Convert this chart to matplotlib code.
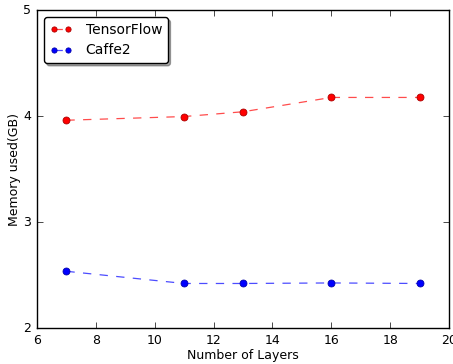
import matplotlib
matplotlib.use("Agg")
from matplotlib import pyplot as plt

layers_tf = [7, 11, 13, 16, 19]
mem_tf = [3.96, 3.995, 4.04, 4.175, 4.175]
layers_caffe2 = [7, 11, 13, 16, 19]
mem_caffe2 = [2.535, 2.42, 2.42, 2.425, 2.42]

plt.style.use('classic')
fig = plt.figure(figsize=(4.53, 3.64), dpi=100)
ax = fig.add_axes([37/453, 1 - 328/364, 412/453, 318/364])

# dashed lines a bit see-through, markers solid
ax.plot(layers_tf, mem_tf, '--', color=(1, 0, 0, 0.7), linewidth=0.9,
        marker='o', markersize=5, markerfacecolor='r', markeredgecolor='#aa0000',
        markeredgewidth=0.6, label='TensorFlow')
ax.plot(layers_caffe2, mem_caffe2, '--', color=(0, 0, 1, 0.7), linewidth=0.9,
        marker='o', markersize=5, markerfacecolor='b', markeredgecolor='#0000aa',
        markeredgewidth=0.6, label='Caffe2')

ax.set_xlim(6, 20)
ax.set_ylim(2, 5)
ax.set_xticks(range(6, 21, 2))
ax.set_yticks([2, 3, 4, 5])
ax.tick_params(labelsize=9)
ax.set_xlabel('Number of Layers', fontsize=9, labelpad=2)
ax.set_ylabel('Memory used(GB)', fontsize=9, labelpad=2)

ax.legend(loc='upper left', fontsize=10, fancybox=True, shadow=True,
          numpoints=2, handlelength=1.6, handletextpad=1.0, markerscale=0.75,
          borderaxespad=0.5)

fig.savefig('out.png', dpi=100)
